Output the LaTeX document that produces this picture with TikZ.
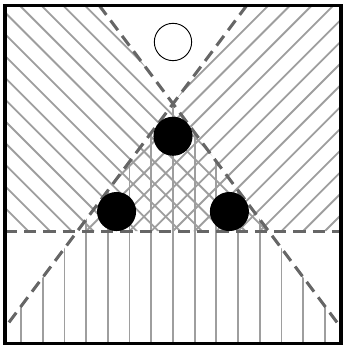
\documentclass[tikz,border=0pt]{standalone}
\usepackage{tikz}
\usetikzlibrary{calc}

\begin{document}
\begin{tikzpicture}[scale=0.5,
  hatch/.style={black!38, line width=1.2pt},
  guide/.style={black!60, line width=2pt, dash pattern=on 8pt off 4.6pt},
  disc/.style={circle, fill=black, inner sep=0pt, minimum size=0.9cm},
  ring/.style={circle, draw=black, line width=0.6pt, inner sep=0pt, minimum size=0.86cm}]
  \useasboundingbox (-7.97,-5.25) rectangle (7.83,10.645);
  % 边框与交点
  \coordinate (SW) at (-7.74,-5.16);
  \coordinate (SE) at (7.74,-5.16);
  \coordinate (NW) at (-7.74,10.41);
  \coordinate (NE) at (7.74,10.41);
  \coordinate (W) at (-7.74,0);
  \coordinate (E) at (7.74,0);
  \coordinate (A) at (0,5.867);
  \coordinate (BL) at (-4.4,0);
  \coordinate (BR) at (4.4,0);
  \coordinate (T1) at (-3.41,10.41);
  \coordinate (T2) at (3.41,10.41);
  \coordinate (R1) at (7.74,-4.45);
  \coordinate (L2) at (-7.74,-4.45);
  % 左上斜线区
  \begin{scope}
    \clip (W) -- (NW) -- (T1) -- (BR) -- cycle;
    \foreach \k in {-8,...,15}
      \draw[hatch] (\k+0.33-12,12) -- (\k+0.33+12,-12);
  \end{scope}
  % 右上斜线区
  \begin{scope}
    \clip (E) -- (NE) -- (T2) -- (BL) -- cycle;
    \foreach \k in {-8,...,15}
      \draw[hatch] (-12,\k-12) -- (12,\k+12);
  \end{scope}
  % 下方竖线区
  \begin{scope}
    \clip (A) -- (L2) -- (SW) -- (SE) -- (R1) -- cycle;
    \foreach \k in {-7,...,7}
      \draw[hatch] (\k,-6) -- (\k,7);
  \end{scope}
  % 虚线
  \draw[guide] (W) -- (E);
  \draw[guide] (T1) -- (R1);
  \draw[guide] (T2) -- (L2);
  % 圆盘
  \node[disc] (top) at (0,4.367) {};
  \node[disc] (left) at (-2.6,0.9) {};
  \node[disc] (right) at (2.6,0.9) {};
  \node[ring] (goal) at (0,8.71) {};
  \draw[line width=2pt] (SW) rectangle (NE);
\end{tikzpicture}
\end{document}
